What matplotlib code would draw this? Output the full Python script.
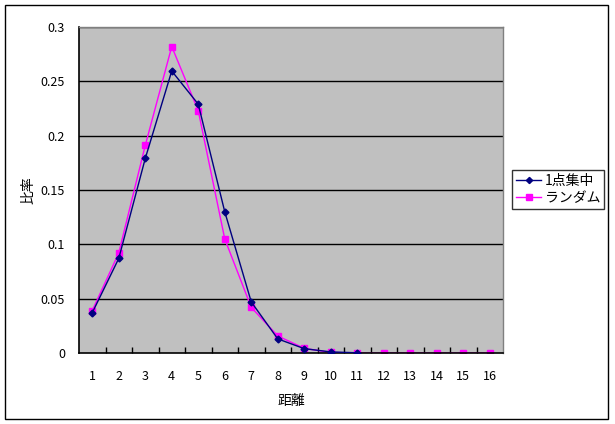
import matplotlib
matplotlib.use("Agg")
import matplotlib.pyplot as plt
from matplotlib.patches import Rectangle
import numpy as np

plt.rcParams['font.family'] = ['Noto Sans CJK JP', 'DejaVu Sans']

distances = list(range(1, 17))
single_point = [0.037, 0.087, 0.179, 0.2595, 0.229, 0.130, 0.047, 0.013, 0.004, 0.001, 0.0002]
random_vals = [0.039, 0.092, 0.191, 0.282, 0.223, 0.105, 0.042, 0.0157, 0.0043, 0.0005, 0, 0, 0, 0, 0, 0]
series_names = ['1点集中', 'ランダム']
y_ticks = [0, 0.05, 0.1, 0.15, 0.2, 0.25, 0.3]
y_tick_labels = ['0', '0.05', '0.1', '0.15', '0.2', '0.25', '0.3']

fig = plt.figure(figsize=(6.15, 4.24), dpi=100)
fig.patches.append(Rectangle((5/615, 1 - 419/424), 603/615, 414/424, transform=fig.transFigure,
                             fill=False, edgecolor='black', linewidth=1))
ax = fig.add_axes([79/615, 1 - 353/424, (503 - 79)/615, (353 - 27)/424])
ax.set_facecolor('#C0C0C0')

for y in y_ticks[1:]:
    ax.axhline(y, color='black', linewidth=1, zorder=1)

ax.plot(distances[:len(single_point)], single_point, color='#000080', marker='D', markersize=3.5,
        linewidth=1, label=series_names[0], zorder=3)
ax.plot(distances, random_vals, color='#FF00FF', marker='s', markersize=5,
        linewidth=1, label=series_names[1], zorder=2)

ax.set_xlim(0.5, 16.5)
ax.set_ylim(0, 0.3)
ax.set_yticks(y_ticks)
ax.set_yticklabels(y_tick_labels)
ax.set_xticks(distances)
ax.set_xticklabels([str(d) for d in distances])
ax.set_xticks(np.arange(1.5, 16.5, 1), minor=True)
ax.tick_params(axis='x', which='major', length=0, pad=12, labelsize=9)
ax.tick_params(axis='x', which='minor', length=4, direction='in', width=1)
ax.tick_params(axis='y', which='major', length=0, pad=10, labelsize=9)

for side in ['left', 'bottom']:
    ax.spines[side].set_color('black')
    ax.spines[side].set_linewidth(1.2)
for side in ['top', 'right']:
    ax.spines[side].set_color('#808080')
    ax.spines[side].set_linewidth(1)

ax.set_xlabel('距離', fontsize=10, labelpad=8)
ax.set_ylabel('比率', fontsize=10, labelpad=4)

leg = fig.legend(loc='upper left', bbox_to_anchor=(512/615, 1 - 170/424), fontsize=10,
                 frameon=True, fancybox=False, edgecolor='black', borderpad=0.3,
                 handlelength=1.8, labelspacing=0.2, handletextpad=0.25, borderaxespad=0,
                 markerscale=0.9)
leg.get_frame().set_linewidth(1)

fig.savefig('out.png', dpi=100)
